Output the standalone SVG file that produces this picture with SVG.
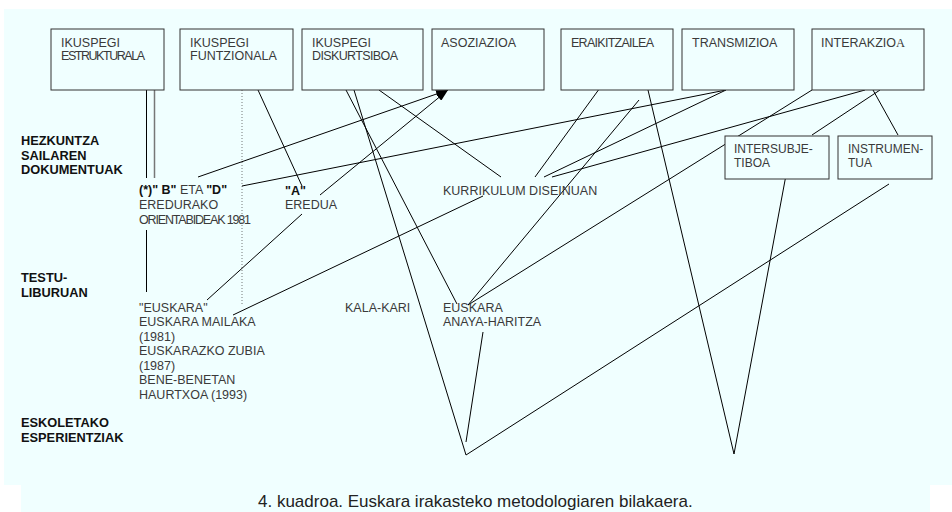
<svg xmlns="http://www.w3.org/2000/svg" width="952" height="512" viewBox="0 0 952 512">
<style>
.box{fill:#f0ffff;stroke:#333;stroke-width:1}
.t{font-family:"Liberation Sans",Arial,sans-serif;font-size:12.5px;fill:#3a3a3a}
.ts{font-family:"Liberation Sans",Arial,sans-serif;font-size:12px;fill:#3a3a3a}
.b{font-family:"Liberation Sans",Arial,sans-serif;font-size:12.8px;font-weight:bold;fill:#111}
.bb{font-weight:bold;fill:#111}
.cap{font-family:"Liberation Sans",Arial,sans-serif;font-size:17px;fill:#222}
.ln{stroke:#000;stroke-width:1;fill:none}
.arr{stroke:#000;stroke-width:1;fill:none;marker-end:url(#ah)}
</style>
<defs>
<marker id="ah" viewBox="0 0 12 8" refX="12" refY="4" markerWidth="12" markerHeight="8" markerUnits="userSpaceOnUse" orient="auto">
<path d="M0,0 L12,4 L0,8 Z" fill="#000"/>
</marker>
</defs>
<rect x="4" y="9" width="948" height="476" fill="#f0ffff"/>
<rect x="21" y="485" width="909" height="27" fill="#f0ffff"/>

<g id="connectors">
<line class="ln" x1="146.5" y1="90" x2="146.5" y2="178"/>
<line x1="154.5" y1="90" x2="154.5" y2="178" stroke="#777" stroke-width="1.5"/>
<line class="ln" x1="146.5" y1="230" x2="146.5" y2="292"/>
<line x1="242" y1="90" x2="242" y2="305" stroke="#555" stroke-width="0.8" stroke-dasharray="1,2"/>
<line class="ln" x1="258" y1="90" x2="302" y2="186"/>
<line class="arr" x1="198" y1="177" x2="448" y2="90"/>
<line class="arr" x1="320" y1="195" x2="448" y2="90"/>
<line class="ln" x1="242" y1="186" x2="726" y2="90"/>
<line class="ln" x1="379" y1="90" x2="501" y2="177"/>
<line class="ln" x1="346" y1="90" x2="457" y2="304"/>
<line class="ln" x1="354" y1="90" x2="466" y2="455"/>
<line class="ln" x1="466" y1="455" x2="889" y2="184"/>
<line class="ln" x1="483" y1="332" x2="466" y2="442"/>
<line class="ln" x1="605" y1="81" x2="535" y2="177"/>
<line class="ln" x1="639" y1="100" x2="468" y2="305"/>
<line class="ln" x1="648" y1="90" x2="734" y2="454"/>
<line class="ln" x1="734" y1="454" x2="786" y2="175"/>
<line class="ln" x1="726" y1="90" x2="544" y2="177"/>
<line class="ln" x1="865" y1="90" x2="552" y2="177"/>
<line class="ln" x1="812" y1="90" x2="468" y2="305"/>
<line class="ln" x1="880" y1="90" x2="812" y2="135"/>
<line class="ln" x1="873" y1="90" x2="898" y2="135"/>
<line class="ln" x1="207" y1="300" x2="302" y2="214"/>
<line class="ln" x1="233" y1="315" x2="483" y2="196"/>
</g>

<g id="n-estrukturala">
<rect class="box" x="51" y="29" width="113" height="61"/>
<text class="t" x="61" y="47">IKUSPEGI</text>
<text class="t" x="61" y="60" textLength="84" lengthAdjust="spacing">ESTRUKTURALA</text>
</g>
<g id="n-funtzionala">
<rect class="box" x="180" y="29" width="113" height="61"/>
<text class="t" x="190" y="47">IKUSPEGI</text>
<text class="t" x="190" y="60">FUNTZIONALA</text>
</g>
<g id="n-diskurtsiboa">
<rect class="box" x="302" y="29" width="121" height="61"/>
<text class="t" x="312" y="47">IKUSPEGI</text>
<text class="t" x="312" y="60" textLength="86" lengthAdjust="spacing">DISKURTSIBOA</text>
</g>
<g id="n-asoziazioa">
<rect class="box" x="432" y="29" width="112" height="61"/>
<text class="t" x="441" y="47">ASOZIAZIOA</text>
</g>
<g id="n-eraikitzailea">
<rect class="box" x="561" y="29" width="112" height="61"/>
<text class="t" x="571" y="47" textLength="83" lengthAdjust="spacing">ERAIKITZAILEA</text>
</g>
<g id="n-transmizioa">
<rect class="box" x="682" y="29" width="112" height="61"/>
<text class="t" x="692" y="47">TRANSMIZIOA</text>
</g>
<g id="n-interakzioa">
<rect class="box" x="812" y="29" width="112" height="61"/>
<text class="t" x="821" y="47">INTERAKZIO<tspan font-family="'Liberation Serif',serif">A</tspan></text>
</g>
<g id="n-intersubjetiboa">
<rect class="box" x="725" y="136" width="104" height="43"/>
<text class="ts" x="734" y="153">INTERSUBJE-</text>
<text class="ts" x="734" y="167">TIBOA</text>
</g>
<g id="n-instrumentua">
<rect class="box" x="838" y="136" width="94" height="43"/>
<text class="ts" x="848" y="153">INSTRUMEN-</text>
<text class="ts" x="848" y="167">TUA</text>
</g>

<g id="row-labels">
<text class="b" x="21" y="145">HEZKUNTZA</text>
<text class="b" x="21" y="159.5">SAILAREN</text>
<text class="b" x="21" y="174">DOKUMENTUAK</text>
<text class="b" x="21" y="282">TESTU-</text>
<text class="b" x="21" y="296.5">LIBURUAN</text>
<text class="b" x="21" y="427">ESKOLETAKO</text>
<text class="b" x="21" y="441.5">ESPERIENTZIAK</text>
</g>

<g id="n-orientabideak">
<text class="t" x="139" y="194"><tspan class="bb">(*)" B"</tspan> ETA <tspan class="bb">"D"</tspan></text>
<text class="t" x="139" y="209">EREDURAKO</text>
<text class="t" x="139" y="223.5" textLength="112" lengthAdjust="spacing">ORIENTABIDEAK 1981</text>
</g>
<g id="n-a-eredua">
<text class="t" x="285" y="195"><tspan class="bb">"A"</tspan></text>
<text class="t" x="285" y="209">EREDUA</text>
</g>
<g id="n-kurrikulum">
<text class="t" x="443" y="195">KURRIKULUM DISEINUAN</text>
</g>
<g id="n-euskara-liburuak">
<text class="t" x="139" y="311.5">"EUSKARA"</text>
<text class="t" x="139" y="326">EUSKARA MAILAKA</text>
<text class="t" x="139" y="340.5">(1981)</text>
<text class="t" x="139" y="355">EUSKARAZKO ZUBIA</text>
<text class="t" x="139" y="369.5">(1987)</text>
<text class="t" x="139" y="384">BENE-BENETAN</text>
<text class="t" x="139" y="398.5">HAURTXOA (1993)</text>
</g>
<g id="n-kala-kari">
<text class="t" x="345" y="311.5">KALA-KARI</text>
</g>
<g id="n-anaya">
<text class="t" x="443" y="311.5">EUSKARA</text>
<text class="t" x="443" y="326">ANAYA-HARITZA</text>
</g>

<text class="cap" x="258" y="507">4. kuadroa. Euskara irakasteko metodologiaren bilakaera.</text>
</svg>
